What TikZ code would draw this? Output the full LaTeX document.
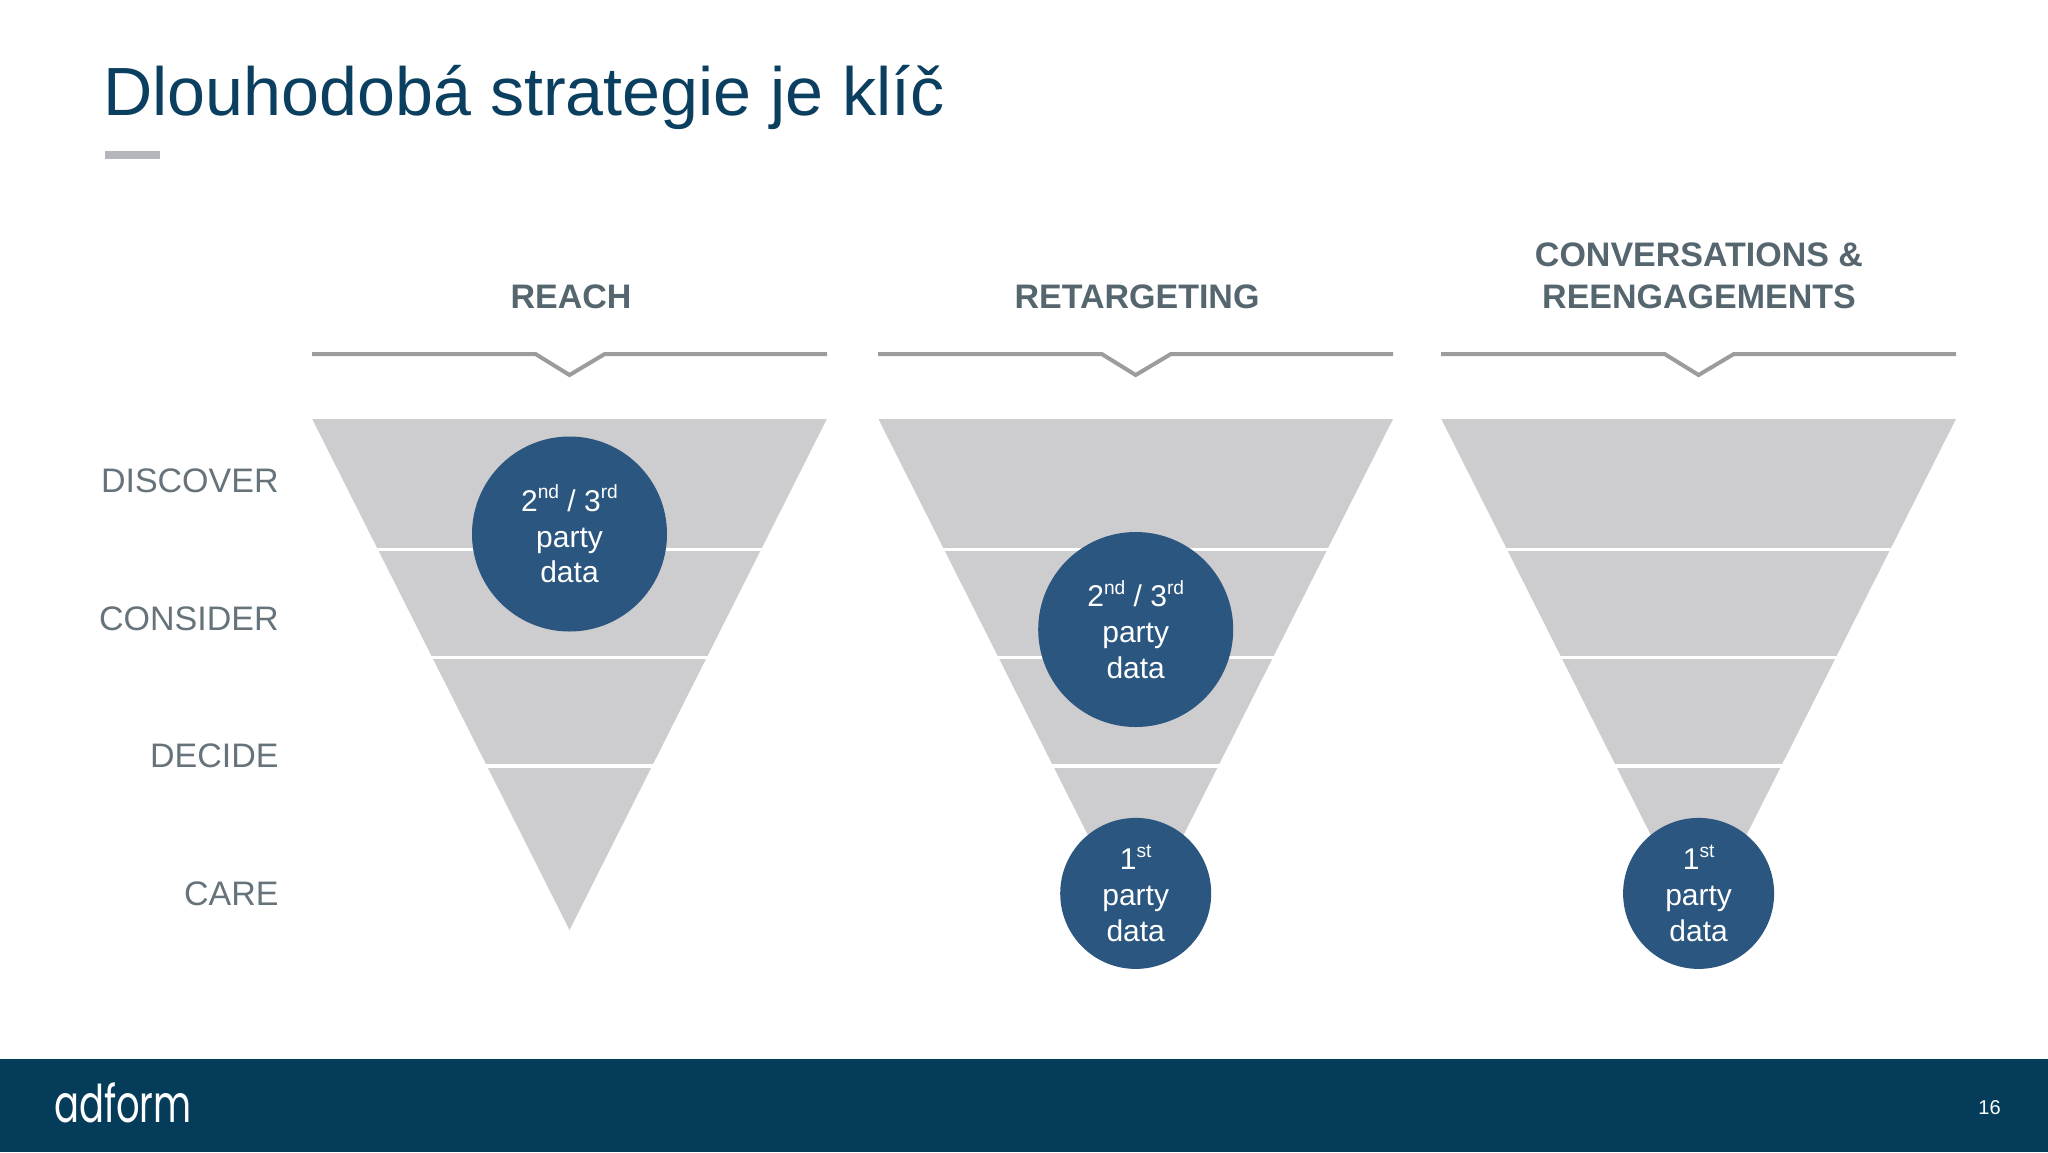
\documentclass[tikz,border=0pt]{standalone}
\usepackage{fontspec}
\setmainfont{Liberation Sans}
\newfontfamily\logofont{Poppins}
\usepackage{tikz}
\usetikzlibrary{positioning}
\definecolor{navy}{HTML}{053C5A}
\definecolor{titleblue}{HTML}{0B3F5F}
\definecolor{discblue}{HTML}{2A567F}
\definecolor{funnelgrey}{HTML}{CDCCCF}
\definecolor{bracketgrey}{HTML}{9C9C9F}
\definecolor{headgrey}{HTML}{56666F}
\definecolor{stagegrey}{HTML}{66737B}
\definecolor{bargrey}{HTML}{B5B5BC}
\newcommand{\sups}[1]{\raisebox{0.42em}{\fontsize{9.6}{10}\selectfont #1}}
\begin{document}
\begin{tikzpicture}[x=0.5pt,y=-0.5pt,
		head node/.style={font=\fontsize{17}{20}\selectfont\bfseries,text=headgrey,align=center,anchor=base,inner sep=0pt},
		stage node/.style={font=\fontsize{17}{20}\selectfont,text=stagegrey,anchor=mid east,inner sep=0pt},
		big node/.style={circle,fill=discblue,text=white,minimum size=97.5pt,inner sep=0pt,align=center,font=\fontsize{15}{17.9}\selectfont},
		small node/.style={big node,minimum size=75.5pt},
		funnel/.style={fill=funnelgrey},
		gap/.style={draw=white,line width=1.8pt},
		bracket/.style={draw=bracketgrey,line width=2pt}]
		
		\useasboundingbox (0,0) rectangle (2048,1152);
		\fill[white] (0,0) rectangle (2048,1152);
		
		% title and footer
		\node[anchor=base west,inner sep=0pt,font=\fontsize{34.1}{40}\selectfont,text=titleblue] (title) at (103,115) {Dlouhodobá strategie je klíč};
		\fill[bargrey] (104.5,151) rectangle (159.5,159);
		\fill[navy] (0,1059) rectangle (2048,1152);
		\node[anchor=base west,inner sep=0pt,xscale=0.71,font=\logofont\fontsize{26}{30}\selectfont,text=white] (logo) at (54,1122) {adform};
		\node[anchor=base east,inner sep=0pt,font=\fontsize{10}{12}\selectfont,text=white] (page) at (2001,1114) {16};
		
		% column heads
		\node[head node] (reach) at (571,308) {REACH};
		\node[head node] (retarget) at (1137,308) {RETARGETING};
		\node[head node] (convers) at (1699,308) {CONVERSATIONS \&\\[0.6pt]REENGAGEMENTS};
		
		\draw[bracket] (312,354) -- (535.5,354) -- (569.5,375) -- (604.7,354) -- (827,354);
		\draw[bracket] (878,354) -- (1101.7,354) -- (1135.7,375) -- (1170.9,354) -- (1393,354);
		\draw[bracket] (1441,354) -- (1664.6,354) -- (1698.6,375) -- (1733.8,354) -- (1956,354);
		
		% stages
		\node[stage node] (discover) at (279,487.5) {DISCOVER};
		\node[stage node] (consider) at (279,625.5) {CONSIDER};
		\node[stage node] (decide) at (279,762.5) {DECIDE};
		\node[stage node] (care) at (279,900) {CARE};
		
		% funnels
		\fill[funnel] (312.2,419) -- (826.8,419) -- (569.5,930) -- cycle;
		\draw[gap] (370,549.5) -- (769,549.5);
		\draw[gap] (425,657.5) -- (714,657.5);
		\draw[gap] (480,766) -- (659,766);
		
		\fill[funnel] (878.4,419) -- (1393,419) -- (1135.7,930) -- cycle;
		\draw[gap] (936,549.5) -- (1335,549.5);
		\draw[gap] (991,657.5) -- (1280,657.5);
		\draw[gap] (1046,766) -- (1225,766);
		
		\fill[funnel] (1441.3,419) -- (1955.9,419) -- (1698.6,930) -- cycle;
		\draw[gap] (1499,549.5) -- (1898,549.5);
		\draw[gap] (1554,657.5) -- (1843,657.5);
		\draw[gap] (1609,766) -- (1788,766);
		
		% data discs
		\node[big node] (reach3rd) at (569.5,534) {2\sups{nd} / 3\sups{rd}\\party\\data};
		\node[big node] (retarget3rd) at (1135.7,629.5) {2\sups{nd} / 3\sups{rd}\\party\\data};
		\node[small node] (retarget1st) at (1135.7,893.4) {1\sups{st}\\party\\data};
		\node[small node] (convers1st) at (1698.6,893.4) {1\sups{st}\\party\\data};
		
		\end{tikzpicture}
\end{document}
